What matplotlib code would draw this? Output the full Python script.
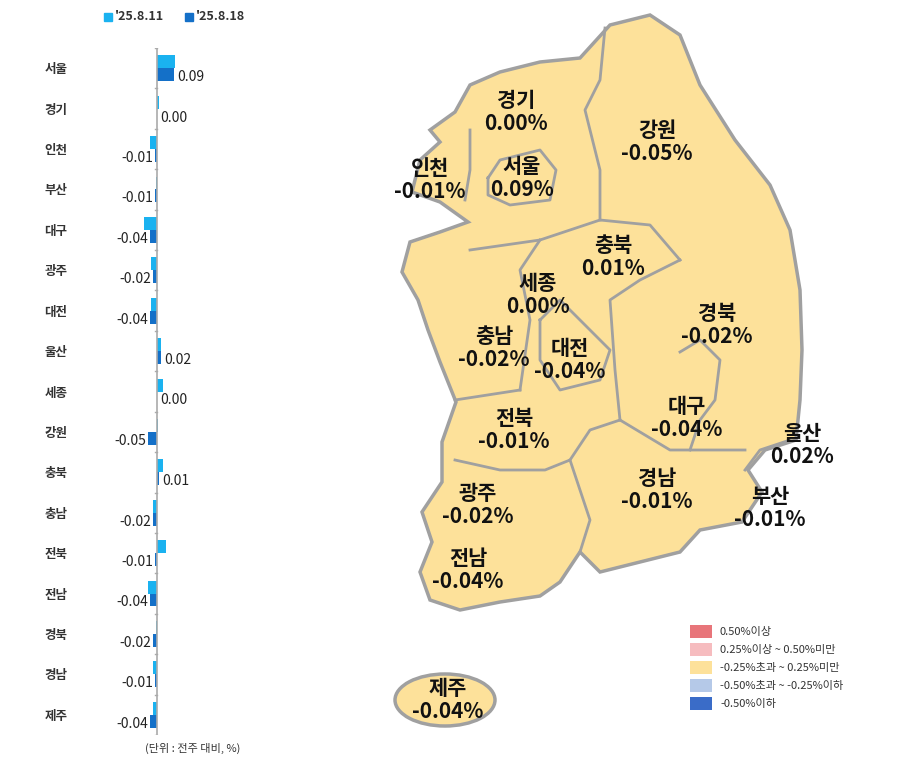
import matplotlib
matplotlib.use("Agg")
import matplotlib.pyplot as plt
from matplotlib.patches import Polygon, Ellipse, Rectangle
import numpy as np

plt.rcParams['font.family'] = ['Noto Sans CJK KR', 'DejaVu Sans']

regions = ['서울','경기','인천','부산','대구','광주','대전','울산','세종','강원','충북','충남','전북','전남','경북','경남','제주']
w0811 = [0.10,0.01,-0.04,-0.005,-0.07,-0.03,-0.03,0.02,0.03,0.003,0.03,-0.02,0.05,-0.05,-0.005,-0.02,-0.02]
w0818 = [0.09,0.00,-0.01,-0.01,-0.04,-0.02,-0.04,0.02,0.00,-0.05,0.01,-0.02,-0.01,-0.04,-0.02,-0.01,-0.04]
labels = ['0.09','0.00','-0.01','-0.01','-0.04','-0.02','-0.04','0.02','0.00','-0.05','0.01','-0.02','-0.01','-0.04','-0.02','-0.01','-0.04']
series_names = ["'25.8.11", "'25.8.18"]
c1, c2 = '#1ab2f0', '#1470c8'

W, H = 913, 780
fig = plt.figure(figsize=(W/100, H/100), dpi=100)

def ax_px(x0, y0, x1, y1):
    return fig.add_axes([x0/W, 1-y1/H, (x1-x0)/W, (y1-y0)/H])

ax = ax_px(120, 48, 230, 735)
n = len(regions)
y = np.arange(n)
bh = 0.32
ax.barh(y-bh/2, w0811, height=bh, color=c1)
ax.barh(y+bh/2, w0818, height=bh, color=c2)
ax.set_ylim(n-0.5, -0.5)
ax.set_xlim(-0.2, 0.395)
for s in ax.spines.values():
    s.set_visible(False)
ax.axvline(0, color='#aaaaaa', lw=1.2)
for b in np.arange(-0.5, n, 1):
    ax.plot([-0.012, 0], [b, b], color='#aaaaaa', lw=1)
ax.set_xticks([])
ax.set_yticks(y)
ax.set_yticklabels(regions, fontsize=9, fontweight='bold', color='#333333')
ax.tick_params(axis='y', length=0, pad=38)
for i, (v, lab) in enumerate(zip(w0818, labels)):
    if lab.startswith('-'):
        ax.text(min(v, 0) - 0.01, i + 0.22, lab, ha='right', va='center', fontsize=10, color='#222222', fontstretch='condensed')
    else:
        ax.text(max(v, 0) + 0.02, i + 0.22, lab, ha='left', va='center', fontsize=10, color='#222222', fontstretch='condensed')

fig.text(145/W, 1-752/H, '(단위 : 전주 대비, %)', fontsize=8, color='#333333')
# top legend
for xs, name, c in [(104, series_names[0], c1), (185, series_names[1], c2)]:
    fig.patches.append(Rectangle((xs/W, 1-21/H), 8/W, 8/H, transform=fig.transFigure, color=c))
    fig.text((xs+11)/W, 1-17/H, name, fontsize=9, fontweight='bold', va='center', color='#333333')

# map
mx = ax_px(380, 0, 913, 780)
mx.set_xlim(380, 913); mx.set_ylim(780, 0); mx.axis('off')
fill, edge = '#fde19a', '#a0a0a0'
outline = [(430,130),(455,112),(470,85),(500,72),(540,62),(580,58),(610,25),(650,15),(680,35),(700,85),(735,140),(770,185),(790,230),(800,290),(802,350),(800,400),(796,440),(765,450),(748,470),(762,492),(742,522),(700,530),(680,552),(640,562),(600,572),(580,552),(560,582),(540,596),(500,602),(460,610),(430,600),(420,572),(432,542),(422,512),(442,482),(442,442),(456,402),(440,362),(428,330),(418,300),(402,272),(410,242),(440,232),(468,222),(440,202),(412,192),(420,160),(440,142)]
mx.add_patch(Polygon(outline, closed=True, fc=fill, ec=edge, lw=2.5))
mx.add_patch(Ellipse((445, 700), 100, 52, fc=fill, ec=edge, lw=2.5))
lines = [
    [(605,28),(600,80),(585,110),(600,170),(600,220)],
    [(470,250),(540,240),(600,220),(650,225),(680,260)],
    [(488,178),(500,160),(540,150),(556,170),(550,200),(510,205),(488,195),(488,178)],
    [(470,130),(470,170),(465,200)],
    [(540,240),(520,270),(530,320),(520,390)],
    [(680,260),(640,280),(610,300),(615,370),(620,420)],
    [(520,390),(455,400)],
    [(540,320),(560,300),(590,330),(610,350),(600,380),(560,390),(540,360),(540,320)],
    [(620,420),(590,430),(570,460),(545,470),(500,470),(455,460)],
    [(620,420),(670,450),(745,450)],
    [(570,460),(590,520),(580,552)],
    [(680,352),(700,340),(720,360),(715,400),(700,420),(690,450)],
    [(745,470),(760,450),(790,440)],
]
for ln in lines:
    xs, ys = zip(*ln)
    mx.plot(xs, ys, color=edge, lw=2)

map_labels = [('경기','0.00%',516,112),('강원','-0.05%',657,142),('인천','-0.01%',430,180),('서울','0.09%',522,178),
              ('충북','0.01%',613,257),('세종','0.00%',538,295),('경북','-0.02%',717,325),('충남','-0.02%',494,348),
              ('대전','-0.04%',570,360),('대구','-0.04%',687,418),('울산','0.02%',802,445),('전북','-0.01%',514,430),
              ('경남','-0.01%',657,490),('부산','-0.01%',770,508),('광주','-0.02%',478,505),('전남','-0.04%',468,570),
              ('제주','-0.04%',448,700)]
for nm, val, x, yy in map_labels:
    mx.text(x, yy, nm + '\n' + val, ha='center', va='center', fontsize=15, fontweight='bold', color='#111111', linespacing=1.1)

leg_colors = ['#e8757a','#f6bcbf','#fde19a','#b5c9e8','#3a6cc8']
leg_text = ['0.50%이상','0.25%이상 ~ 0.50%미만','-0.25%초과 ~ 0.25%미만','-0.50%초과 ~ -0.25%이하','-0.50%이하']
for i, (c, t) in enumerate(zip(leg_colors, leg_text)):
    yy = 625 + i*18
    mx.add_patch(Rectangle((690, yy), 22, 13, fc=c, ec='none'))
    mx.text(720, yy+6.5, t, fontsize=8, va='center', color='#333333')

fig.savefig('out.png', dpi=100)
